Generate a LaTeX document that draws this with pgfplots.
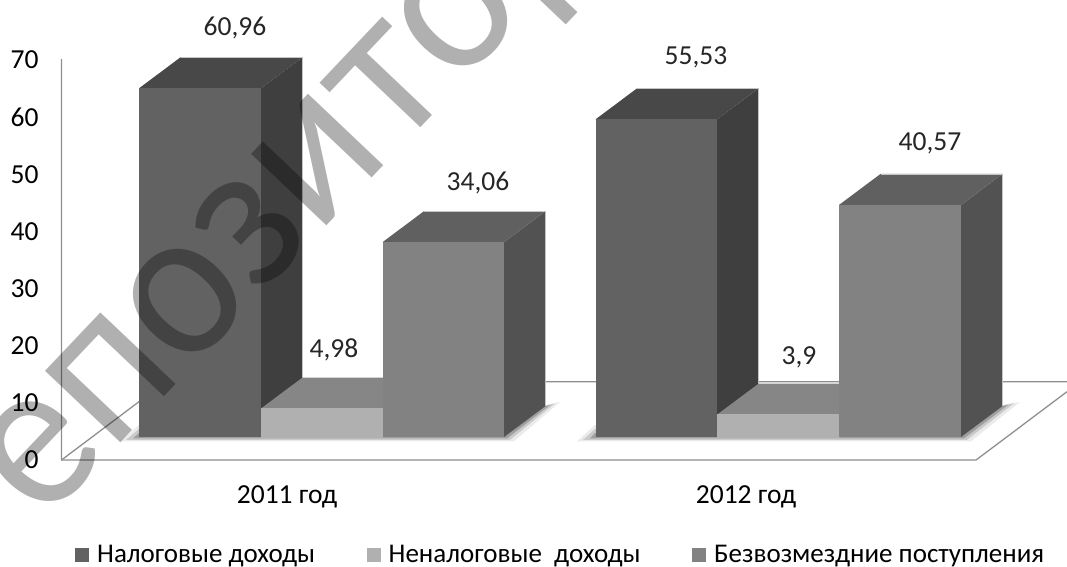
\documentclass[border=0pt]{standalone}
\usepackage{fontspec}
\setmainfont{Carlito}
\newfontfamily\wmfont[FakeStretch=0.93]{Lato}
\usepackage{pgfplots}
\pgfplotsset{compat=1.18}
\usepackage{pgfplotstable}

\definecolor{darkfront}{HTML}{626262}
\definecolor{darktop}{HTML}{484848}
\definecolor{darkside}{HTML}{3F3F3F}
\definecolor{lightfront}{HTML}{B0B0B0}
\definecolor{lighttop}{HTML}{868686}
\definecolor{midfront}{HTML}{828282}
\definecolor{midtop}{HTML}{606060}
\definecolor{midside}{HTML}{525252}
\definecolor{wall}{HTML}{8E8E8E}
\definecolor{barcut}{HTML}{C4C4C4}

\newcommand{\chartfont}{\fontsize{27.5}{30}\selectfont}

% value labels, x and y where the text sits
\pgfplotstableread{
x     y      lab
235   71.68  60,96
334   15.38  4,98
478   44.58  34,06
696   66.60  55,53
799   14.16  3,9
930   51.57  40,57
}\labeltable

\begin{document}
\begin{tikzpicture}
\begin{axis}[
  scale only axis,
  width=1067pt, height=566pt,
  xmin=0, xmax=1067,
  ymin=-22.55, ymax=76.40,
  axis line style={draw=none},
  tick style={draw=none},
  xtick={287,746},
  xticklabels={2011 год,2012 год},
  ytick={-3.85,6.14,16.13,26.12,36.11,46.10,56.09,66.08},
  yticklabels={0,10,20,30,40,50,60,70},
  tick label style={font=\chartfont},
  xticklabel style={anchor=center, yshift=69pt},
  yticklabel style={anchor=east, xshift=42pt, yshift=-1pt},
  legend style={at={(axis cs:72,-20.6)}, anchor=west, draw=none, fill=none,
    font=\fontsize{27}{30}\selectfont, legend columns=3,
    /tikz/every odd column/.append style={column sep=6pt},
    /tikz/every even column/.append style={column sep=49.5pt}},
  legend cell align=left,
  poly/.style={draw=none, forget plot},
  line/.style={draw=wall, line width=1.3pt, forget plot},
  cut/.style={draw=barcut, line width=0.8pt, forget plot},
  sq/.style={legend image code/.code={\fill[##1, draw=none] (0pt,-7pt) rectangle (14pt,7pt);}},
]
% walls and floor
\addplot[line] coordinates {(61.5,66.08) (61.5,-4.02) (976,-4.02) (1067,7.92)};
\addplot[line] coordinates {(61.5,-4.02) (165.6,9.67) (1067,9.67)};

% floor shadows
\addplot[poly, fill=black, opacity=0.08] coordinates {(120,-0.75) (139,2.10) (546,5.59) (560,6.12) (514,-0.75)} --cycle;
\addplot[poly, fill=black, opacity=0.14] coordinates {(126,-0.50) (139,1.40) (546,5.50) (555,5.90) (510,-0.50)} --cycle;
\addplot[poly, fill=black, opacity=0.22] coordinates {(133,-0.25) (139,0.70) (546,5.42) (550,5.60) (507,-0.25)} --cycle;
\addplot[poly, fill=black, opacity=0.08] coordinates {(577,-0.75) (595,2.10) (1002,5.59) (1020,6.12) (971,-0.75)} --cycle;
\addplot[poly, fill=black, opacity=0.14] coordinates {(583,-0.50) (595,1.40) (1002,5.50) (1014,5.90) (967,-0.50)} --cycle;
\addplot[poly, fill=black, opacity=0.22] coordinates {(590,-0.25) (595,0.70) (1002,5.42) (1008,5.60) (964,-0.25)} --cycle;

% 2011, tax income
\addplot[poly, fill=darkside] coordinates {(261,0) (302.5,5.42) (302.5,66.38) (261,60.96)} --cycle;
\addplot[poly, fill=darktop] coordinates {(139,60.96) (180.5,66.38) (302.5,66.38) (261,60.96)} --cycle;
\addplot[poly, fill=darkfront] coordinates {(139,0) (261,0) (261,60.96) (139,60.96)} --cycle;
\addplot[cut] coordinates {(180.5,66.38) (302.5,66.38) (302.5,10.4)};
% 2011, non-tax income
\addplot[poly, fill=lighttop] coordinates {(261,4.98) (302.5,10.40) (424,10.40) (382.5,4.98)} --cycle;
\addplot[fill=lightfront, draw=lightfront, line width=0.7pt, forget plot] coordinates {(261,0) (382.5,0) (382.5,4.98) (261,4.98)} --cycle;
% 2011, grants
\addplot[poly, fill=midside] coordinates {(504,0) (545.5,5.42) (545.5,39.48) (504,34.06)} --cycle;
\addplot[poly, fill=midtop] coordinates {(382.5,34.06) (424,39.48) (545.5,39.48) (504,34.06)} --cycle;
\addplot[poly, fill=midfront] coordinates {(382.5,0) (504,0) (504,34.06) (382.5,34.06)} --cycle;
\addplot[cut] coordinates {(424,39.48) (545.5,39.48) (545.5,5.42)};

% 2012, tax income
\addplot[poly, fill=darkside] coordinates {(717,0) (758.5,5.42) (758.5,60.95) (717,55.53)} --cycle;
\addplot[poly, fill=darktop] coordinates {(595.5,55.53) (637,60.95) (758.5,60.95) (717,55.53)} --cycle;
\addplot[poly, fill=darkfront] coordinates {(595.5,0) (717,0) (717,55.53) (595.5,55.53)} --cycle;
\addplot[cut] coordinates {(637,60.95) (758.5,60.95) (758.5,9.32)};
% 2012, non-tax income
\addplot[poly, fill=lighttop] coordinates {(717,3.9) (758.5,9.32) (880.5,9.32) (839,3.9)} --cycle;
\addplot[fill=lightfront, draw=lightfront, line width=0.7pt, forget plot] coordinates {(717,0) (839,0) (839,3.9) (717,3.9)} --cycle;
% 2012, grants
\addplot[poly, fill=midside] coordinates {(961,0) (1002.5,5.42) (1002.5,45.99) (961,40.57)} --cycle;
\addplot[poly, fill=midtop] coordinates {(839,40.57) (880.5,45.99) (1002.5,45.99) (961,40.57)} --cycle;
\addplot[poly, fill=midfront] coordinates {(839,0) (961,0) (961,40.57) (839,40.57)} --cycle;
\addplot[cut] coordinates {(880.5,45.99) (1002.5,45.99) (1002.5,5.42)};

\addplot[forget plot, only marks, mark=none, point meta=explicit symbolic,
  nodes near coords, nodes near coords style={anchor=center, font=\chartfont, text=black!85, yshift=-1pt}]
  table[x=x, y=y, meta=lab] {\labeltable};

% watermark across the chart
\node[rotate=46.5, anchor=base west, text=black, text opacity=0.31, inner sep=0pt,
  font=\wmfont\fontsize{205}{205}\selectfont] at (axis cs:42,-15.56) {епозитор};

\addlegendimage{sq, fill=darkfront}
\addlegendentry{Налоговые доходы}
\addlegendimage{sq, fill=lightfront}
\addlegendentry{Неналоговые \ доходы}
\addlegendimage{sq, fill=midfront}
\addlegendentry{Безвозмездние поступления}
\end{axis}
\pgfresetboundingbox
\path (current axis.south west) rectangle (current axis.north east);
\end{tikzpicture}
\end{document}
